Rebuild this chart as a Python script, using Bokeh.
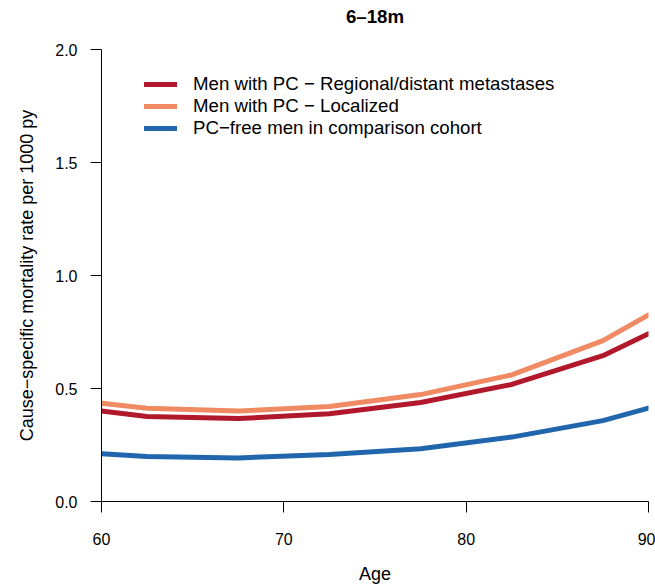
from bokeh.plotting import figure
from bokeh.models import Legend, LegendItem, Range1d, FixedTicker, PrintfTickFormatter, Title
from bokeh.embed import file_html
from bokeh.resources import INLINE

# ---- data ----
ages = [60, 62.5, 67.5, 72.5, 77.5, 82.5, 87.5, 90]
regional = [0.400, 0.376, 0.367, 0.388, 0.438, 0.518, 0.645, 0.742]
localized = [0.435, 0.413, 0.400, 0.420, 0.473, 0.560, 0.712, 0.826]
pcfree = [0.211, 0.199, 0.193, 0.208, 0.233, 0.285, 0.358, 0.413]

series_labels = [
    "Men with PC \u2212 Regional/distant metastases",
    "Men with PC \u2212 Localized",
    "PC\u2212free men in comparison cohort",
]
series_colors = ["#B2182B", "#EF8A62", "#2166AC"]
x_ticks = [60, 70, 80, 90]
y_ticks = [0.0, 0.5, 1.0, 1.5, 2.0]
title_text = "6\u201318m"

FONT = "Liberation Sans"

p = figure(
    frame_width=547, frame_height=452,
    min_border_left=101, min_border_right=7, min_border_top=49, min_border_bottom=87,
    x_range=Range1d(60, 90), y_range=Range1d(0, 2),
    output_backend="svg", toolbar_location=None,
)
p.outline_line_color = None
p.xgrid.visible = False
p.ygrid.visible = False
p.background_fill_color = "white"
p.border_fill_color = "white"

# spacer between frame and title (closest to frame), then the title above it
p.add_layout(Title(text=" ", text_font_size="1px", standoff=20, align="center"), "above")
p.add_layout(Title(
    text=title_text, align="center", vertical_align="bottom", standoff=0,
    text_font=FONT, text_font_size="18.67px", text_font_style="bold", text_color="black",
), "above")

for ax in (p.xaxis[0], p.yaxis[0]):
    ax.axis_line_color = "black"
    ax.axis_line_width = 1
    ax.major_tick_line_color = "black"
    ax.major_tick_line_width = 1
    ax.major_tick_out = 11
    ax.major_tick_in = 0
    ax.minor_tick_line_color = None
    ax.major_label_text_font = FONT
    ax.major_label_text_font_size = "16px"
    ax.major_label_text_color = "black"
    ax.axis_label_text_font = FONT
    ax.axis_label_text_font_size = "18px"
    ax.axis_label_text_font_style = "normal"
    ax.axis_label_text_color = "black"

p.xaxis[0].ticker = FixedTicker(ticks=x_ticks)
p.yaxis[0].ticker = FixedTicker(ticks=y_ticks)
p.yaxis[0].formatter = PrintfTickFormatter(format="%.1f")
p.xaxis[0].axis_label = "Age"
p.yaxis[0].axis_label = "Cause\u2212specific mortality rate per 1000 py"
p.xaxis[0].major_label_standoff = 20
p.yaxis[0].major_label_standoff = 13
p.xaxis[0].axis_label_standoff = 16
p.yaxis[0].axis_label_standoff = 15

renderers = []
for ys, col in zip([regional, localized, pcfree], series_colors):
    r = p.line(ages, ys, line_color=col, line_width=5, line_cap="round", line_join="round")
    renderers.append(r)

legend = Legend(
    items=[LegendItem(label=lab, renderers=[r]) for lab, r in zip(series_labels, renderers)],
    location=(43, 362),
    glyph_width=33, glyph_height=22, label_height=22,
    spacing=0, padding=0, margin=0, label_standoff=16,
    border_line_alpha=0, background_fill_alpha=0,
    label_text_font=FONT, label_text_font_size="18.67px", label_text_color="black",
)
p.add_layout(legend)

open("out.html", "w").write(file_html(p, INLINE))
